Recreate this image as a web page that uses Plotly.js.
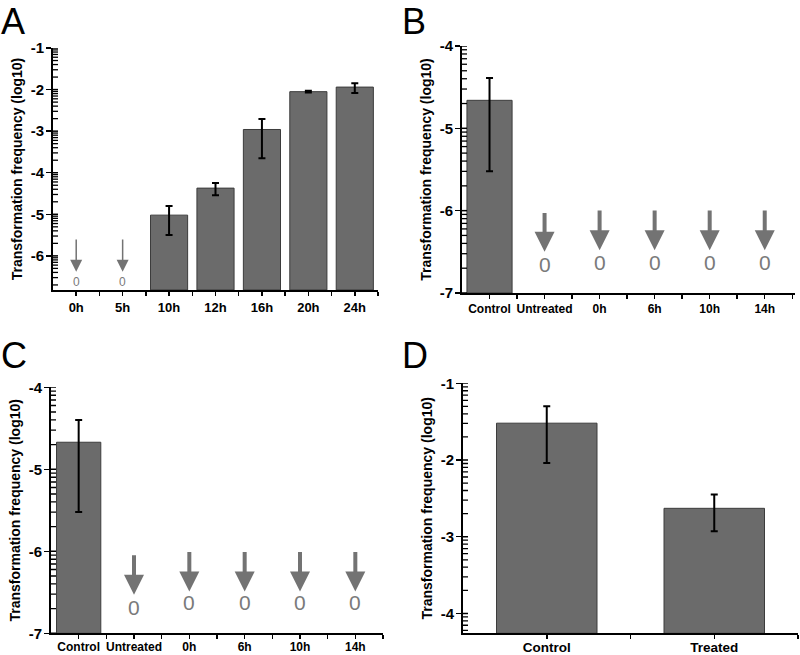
<!DOCTYPE html>
<html>
<head>
<meta charset="utf-8">
<script src="https://cdn.plot.ly/plotly-3.0.1.min.js"></script>
<style>html,body{margin:0;padding:0;background:#fff}#chart{width:800px;height:655px}</style>
</head>
<body>
<div id="chart"></div>
<script>
// ---------- Data ----------
const catsA = ['0h', '5h', '10h', '12h', '16h', '20h', '24h'];
const valsA = [null, null, -5.02, -4.37, -2.96, -2.05, -1.94];
const errPlusA = [null, null, 0.22, 0.12, 0.25, 0.02, 0.09];
const errMinusA = [null, null, 0.48, 0.17, 0.69, 0.02, 0.14];
const zeroA = ['0h', '5h'];
const arrowTailA = [-5.57, -5.57];
const arrowTipA = [-6.38, -6.38];
const zeroLabelA = [-6.62, -6.62];

const catsB = ['Control', 'Untreated', '0h', '6h', '10h', '14h'];
const valsB = [-4.66, null, null, null, null, null];
const errPlusB = [0.27, null, null, null, null, null];
const errMinusB = [0.86, null, null, null, null, null];
const zeroB = ['Untreated', '0h', '6h', '10h', '14h'];
const arrowTailB = [-6.01, -5.98, -5.98, -5.98, -5.98];
const arrowTipB = [-6.50, -6.48, -6.48, -6.48, -6.48];
const zeroLabelB = [-6.66, -6.63, -6.63, -6.63, -6.63];

const catsC = ['Control', 'Untreated', '0h', '6h', '10h', '14h'];
const valsC = [-4.67, null, null, null, null, null];
const errPlusC = [0.27, null, null, null, null, null];
const errMinusC = [0.85, null, null, null, null, null];
const zeroC = ['Untreated', '0h', '6h', '10h', '14h'];
const arrowTailC = [-6.03, -5.99, -5.99, -5.99, -5.99];
const arrowTipC = [-6.53, -6.49, -6.49, -6.49, -6.49];
const zeroLabelC = [-6.68, -6.63, -6.63, -6.63, -6.63];

const catsD = ['Control', 'Treated'];
const valsD = [-1.52, -2.63];
const errPlusD = [0.22, 0.18];
const errMinusD = [0.52, 0.30];

const yTitle = 'Transformation frequency (log10)';

// ---------- Builders ----------
const BAR_FILL = '#6b6b6b';
const BAR_LINE = '#3c3c3c';
const ARROW_COL = '#737373';
const ZERO_COL = '#7a7a7a';
const FONT = 'Liberation Sans, Arial, sans-serif';

// positions of the log-style minor ticks between the decade ticks
function logMinor(lo, hi) {
  const v = [];
  for (let d = Math.floor(lo) - 1; d <= Math.ceil(hi); d++) {
    for (let k = 2; k <= 9; k++) {
      const t = d + Math.log10(k);
      if (t > lo && t < hi) v.push(t);
    }
  }
  return v;
}

const traces = [];
const annotations = [];
const shapes = [];
const layout = {
  width: 800, height: 655,
  margin: {l: 0, r: 0, t: 0, b: 0},
  paper_bgcolor: '#fff', plot_bgcolor: '#fff',
  showlegend: false,
  font: {family: FONT, color: '#000'},
  bargap: 0
};

function panel(idx, cats, vals, ep, em, zeroCats, tail, tip, zlab, opt) {
  const xs = idx === 1 ? '' : String(idx);
  const xa = 'x' + xs, ya = 'y' + xs;
  const base = opt.yrange[0];
  const xIdx = cats.map((c, i) => i);
  traces.push({
    type: 'bar', xaxis: xa, yaxis: ya,
    x: xIdx,
    y: vals.map(v => v === null ? null : v - base),
    base: vals.map(() => base),
    width: opt.barWidth,
    marker: {color: BAR_FILL, line: {color: BAR_LINE, width: 1}},
    error_y: {type: 'data', symmetric: false, array: ep, arrayminus: em,
      color: '#000', thickness: 2, width: opt.capWidth},
    hovertemplate: '%{customdata}<extra></extra>',
    customdata: vals
  });

  const xr = [-0.5, cats.length - 0.5 + (opt.xpad || 0)];
  const xTickVals = [], xTickText = [];
  xIdx.forEach(i => {
    xTickVals.push(i); xTickText.push(cats[i]);
    if (i + 0.5 <= xr[1]) { xTickVals.push(i + 0.5); xTickText.push(''); }
  });
  layout['xaxis' + xs] = {
    domain: opt.xdom, anchor: ya, range: xr,
    tickmode: 'array', tickvals: xTickVals, ticktext: xTickText,
    ticks: 'outside', ticklen: 4, tickwidth: 1.5, tickcolor: '#000',
    showline: true, linecolor: '#000', linewidth: 2, showgrid: false, zeroline: false,
    tickfont: {size: opt.xfont || 12, family: FONT, weight: 'bold', color: '#000'},
    ticklabelstandoff: opt.xstandoff || 0,
    fixedrange: true
  };
  const majors = [];
  for (let t = Math.ceil(opt.yrange[0]); t <= Math.floor(opt.yrange[1]); t++) majors.push(t);
  layout['yaxis' + xs] = {
    domain: opt.ydom, anchor: xa, range: opt.yrange,
    tickmode: 'array', tickvals: majors, ticktext: majors.map(String),
    ticks: 'outside', ticklen: 5, tickwidth: 1.5, tickcolor: '#000',
    showline: true, linecolor: '#000', linewidth: 2, showgrid: false, zeroline: false,
    tickfont: {size: 15, family: FONT, weight: 'bold', color: '#000'},
    ticklabelstandoff: -1,
    title: {text: yTitle, font: {size: 14, family: FONT, weight: 'bold', color: '#000'},
      standoff: opt.standoff || 5},
    fixedrange: true
  };
  // inside tick marks (minor log ticks + inner half of the decade ticks)
  const inner = logMinor(opt.yrange[0], opt.yrange[1]).map(v => [v, 5, 1.3])
    .concat(majors.map(v => [v, 5, 1.5]));
  inner.forEach(([v, len, w]) => {
    shapes.push({
      type: 'line', xref: xa + ' domain', yref: ya, xsizemode: 'pixel', xanchor: 0,
      x0: 0, x1: len, y0: v, y1: v, line: {color: '#000', width: w}, layer: 'above'
    });
  });
  zeroCats.forEach((c, i) => {
    const xi = cats.indexOf(c);
    annotations.push({
      xref: xa, yref: ya, axref: xa, ayref: ya,
      x: xi, y: tip[i], ax: xi, ay: tail[i], text: '',
      showarrow: true, arrowhead: opt.arrowhead, arrowsize: opt.arrowsize,
      arrowwidth: opt.arrowwidth, arrowcolor: ARROW_COL, standoff: 0, startstandoff: 0
    });
    annotations.push({
      xref: xa, yref: ya, x: xi, y: zlab[i], text: '0', showarrow: false,
      font: {size: opt.zeroSize, family: FONT, color: ZERO_COL}
    });
  });
  annotations.push({
    xref: 'paper', yref: 'paper', x: opt.letterPos[0], y: opt.letterPos[1],
    xanchor: 'left', yanchor: 'top', text: opt.letter, showarrow: false, borderpad: 0,
    font: {size: 36, family: FONT, color: '#000'}
  });
}

panel(1, catsA, valsA, errPlusA, errMinusA, zeroA, arrowTailA, arrowTipA, zeroLabelA, {
  xdom: [0.06625, 0.4725], ydom: [0.5573, 0.9267], yrange: [-6.82, -1],
  barWidth: 0.8, capWidth: 3.5, arrowhead: 2, arrowsize: 1.6, arrowwidth: 1.5, zeroSize: 12,
  letter: 'A', letterPos: [0.0, 1.0], xfont: 13
});
panel(2, catsB, valsB, errPlusB, errMinusB, zeroB, arrowTailB, arrowTipB, zeroLabelB, {
  xdom: [0.5775, 0.99375], ydom: [0.5527, 0.9298], yrange: [-7, -4],
  barWidth: 0.82, capWidth: 3.5, arrowhead: 2, arrowsize: 1, arrowwidth: 4, zeroSize: 21,
  letter: 'B', letterPos: [0.501, 1.0], xpad: 0.05, xfont: 12
});
panel(3, catsC, valsC, errPlusC, errMinusC, zeroC, arrowTailC, arrowTipC, zeroLabelC, {
  xdom: [0.06375, 0.47875], ydom: [0.0331, 0.4087], yrange: [-7, -4],
  barWidth: 0.8, capWidth: 3.5, arrowhead: 2, arrowsize: 1, arrowwidth: 4, zeroSize: 21,
  letter: 'C', letterPos: [0.0, 0.49], xfont: 12, xstandoff: -3
});
panel(4, catsD, valsD, errPlusD, errMinusD, [], [], [], [], {
  xdom: [0.57875, 0.9975], ydom: [0.0331, 0.4148], yrange: [-4.26, -1],
  barWidth: 0.6, capWidth: 3.5, arrowhead: 2, arrowsize: 1, arrowwidth: 4, zeroSize: 21,
  letter: 'D', letterPos: [0.501, 0.49], xfont: 13.5, xstandoff: -4
});

layout.annotations = annotations;
layout.shapes = shapes;
Plotly.newPlot('chart', traces, layout, {displayModeBar: false, staticPlot: true});
</script>
</body>
</html>
